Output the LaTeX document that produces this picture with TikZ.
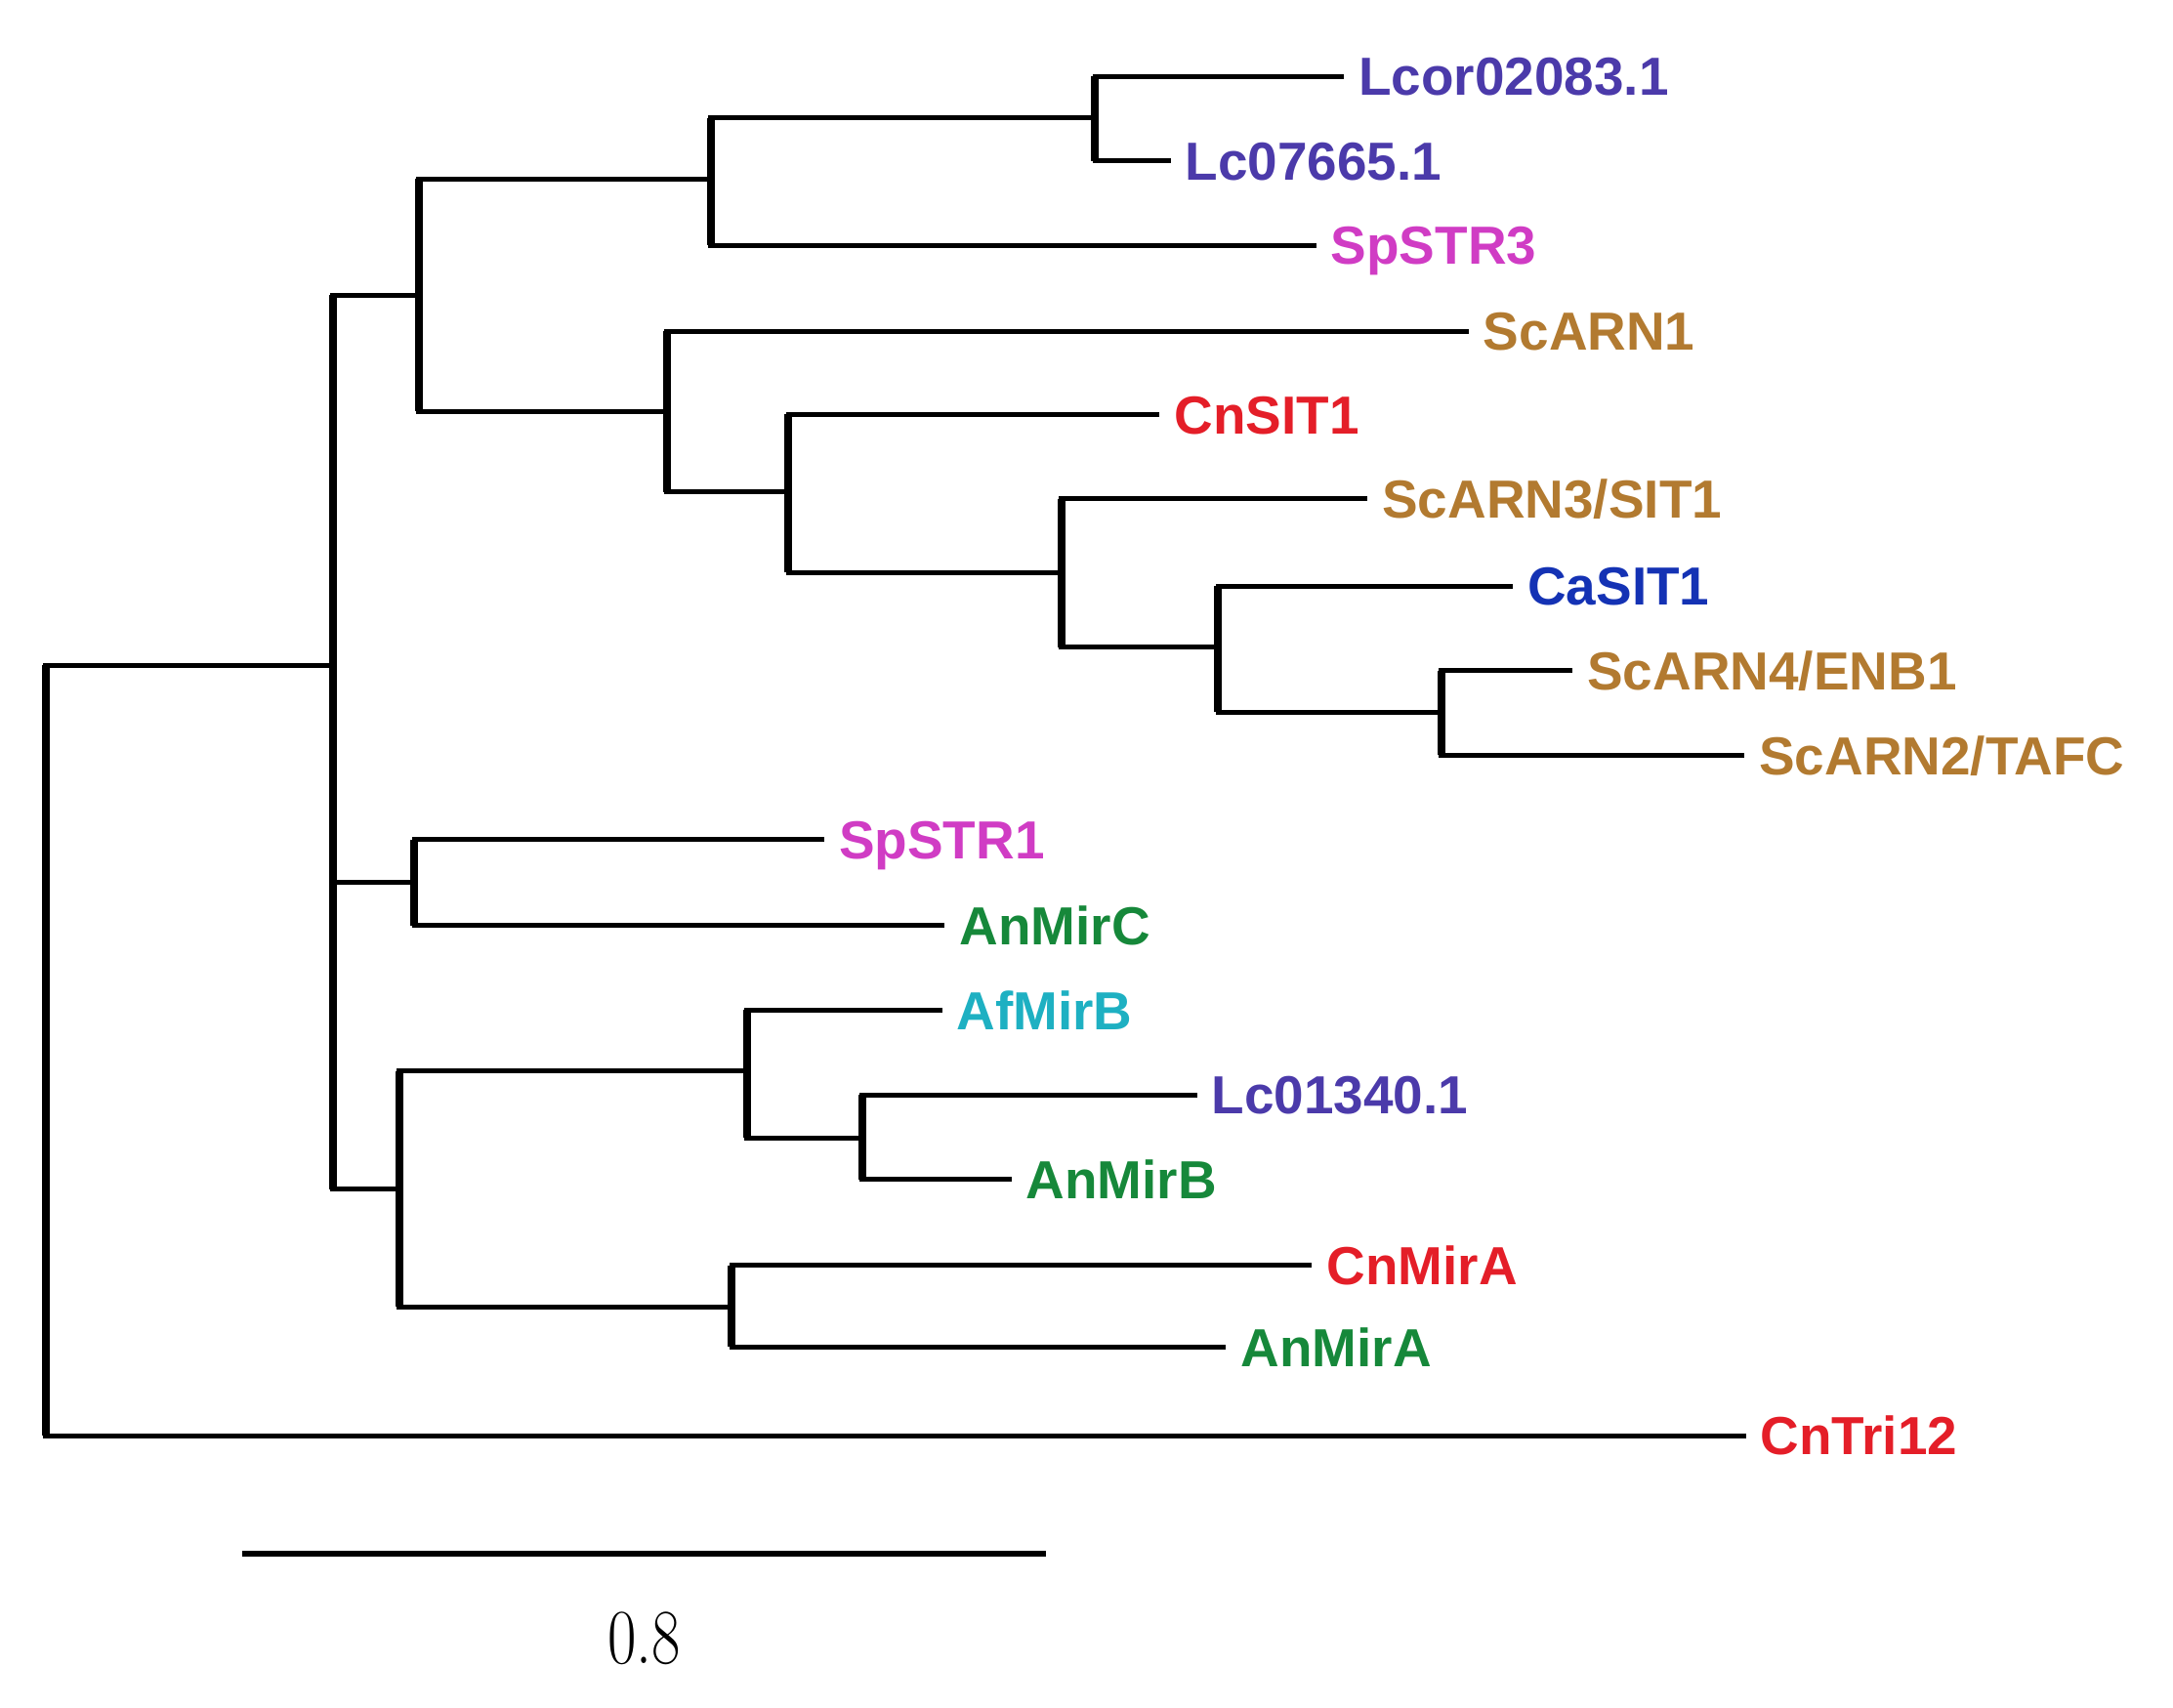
\documentclass[tikz,border=0pt]{standalone}
\usepackage{fontspec}
\usepackage{tikz}
\usetikzlibrary{positioning}
\newfontfamily\leaffont{Liberation Sans}
\definecolor{lcpurple}{RGB}{75, 58, 170}
\definecolor{spmagenta}{RGB}{208, 60, 196}
\definecolor{scbrown}{RGB}{178, 122, 48}
\definecolor{cared}{RGB}{228, 30, 40}
\definecolor{cablue}{RGB}{20, 50, 180}
\definecolor{angreen}{RGB}{22, 136, 58}
\definecolor{afcyan}{RGB}{30, 176, 194}

\begin{document}
\begin{tikzpicture}[x=0.01cm, y=-0.01cm,
    leaf/.style={anchor=west, font=\leaffont\bfseries\fontsize{11}{12}\selectfont, text height=7.9pt, text depth=0pt},
    hline/.style={line width=1pt, line cap=rect},
    vline/.style={line width=1.6pt},
    scalebar/.style={line width=1.2pt}
]
\useasboundingbox (0,0) rectangle (1568,1232);

% internal nodes
\coordinate (root) at (33,480);
\coordinate (a) at (240,480);
\coordinate (b) at (302,213);
\coordinate (c) at (513,129);
\coordinate (g) at (790,85);
\coordinate (f) at (481,297);
\coordinate (h) at (569,355);
\coordinate (i) at (766,413);
\coordinate (j) at (879,467);
\coordinate (k) at (1040,514);
\coordinate (d) at (299,637);
\coordinate (e) at (288,858);
\coordinate (l) at (539,773);
\coordinate (n) at (622,821);
\coordinate (m) at (528,943);

% leaves
\node[leaf, text=lcpurple] (lcor) at (968,55) {Lcor02083.1};
\node[leaf, text=lcpurple] (lc07665) at (843,116) {Lc07665.1};
\node[leaf, text=spmagenta] (spstr3) at (948,177) {SpSTR3};
\node[leaf, text=scbrown] (scarn1) at (1058,239) {ScARN1};
\node[leaf, text=cared] (cnsit1) at (835,299) {CnSIT1};
\node[leaf, text=scbrown] (scarn3) at (985,360) {ScARN3/SIT1};
\node[leaf, text=cablue] (casit1) at (1090,423) {CaSIT1};
\node[leaf, text=scbrown] (scarn4) at (1133,484) {ScARN4/ENB1};
\node[leaf, text=scbrown] (scarn2) at (1257,545) {ScARN2/TAFC};
\node[leaf, text=spmagenta] (spstr1) at (593,606) {SpSTR1};
\node[leaf, text=angreen] (anmirc) at (680,668) {AnMirC};
\node[leaf, text=afcyan] (afmirb) at (678,729) {AfMirB};
\node[leaf, text=lcpurple] (lc01340) at (862,790) {Lc01340.1};
\node[leaf, text=angreen] (anmirb) at (728,851) {AnMirB};
\node[leaf, text=cared] (cnmira) at (945,913) {CnMirA};
\node[leaf, text=angreen] (anmira) at (883,972) {AnMirA};
\node[leaf, text=cared] (cntri12) at (1258,1036) {CnTri12};

% vertical bars
\draw[vline] (root |- a) -- (root |- cntri12.west);
\draw[vline] (a |- b) -- (a |- e);
\draw[vline] (b |- c) -- (b |- f);
\draw[vline] (c |- g) -- (c |- spstr3.west);
\draw[vline] (g |- lcor.west) -- (g |- lc07665.west);
\draw[vline] (f |- scarn1.west) -- (f |- h);
\draw[vline] (h |- cnsit1.west) -- (h |- i);
\draw[vline] (i |- scarn3.west) -- (i |- j);
\draw[vline] (j |- casit1.west) -- (j |- k);
\draw[vline] (k |- scarn4.west) -- (k |- scarn2.west);
\draw[vline] (d |- spstr1.west) -- (d |- anmirc.west);
\draw[vline] (e |- l) -- (e |- m);
\draw[vline] (l |- afmirb.west) -- (l |- n);
\draw[vline] (n |- lc01340.west) -- (n |- anmirb.west);
\draw[vline] (m |- cnmira.west) -- (m |- anmira.west);

% horizontal branches
\draw[hline] (root) -- (a);
\draw[hline] (root |- cntri12.west) -- (cntri12.west);
\draw[hline] (a |- b) -- (b);
\draw[hline] (a |- d) -- (d);
\draw[hline] (a |- e) -- (e);
\draw[hline] (b |- c) -- (c);
\draw[hline] (b |- f) -- (f);
\draw[hline] (c |- g) -- (g);
\draw[hline] (c |- spstr3.west) -- (spstr3.west);
\draw[hline] (g |- lcor.west) -- (lcor.west);
\draw[hline] (g |- lc07665.west) -- (lc07665.west);
\draw[hline] (f |- scarn1.west) -- (scarn1.west);
\draw[hline] (f |- h) -- (h);
\draw[hline] (h |- cnsit1.west) -- (cnsit1.west);
\draw[hline] (h |- i) -- (i);
\draw[hline] (i |- scarn3.west) -- (scarn3.west);
\draw[hline] (i |- j) -- (j);
\draw[hline] (j |- casit1.west) -- (casit1.west);
\draw[hline] (j |- k) -- (k);
\draw[hline] (k |- scarn4.west) -- (scarn4.west);
\draw[hline] (k |- scarn2.west) -- (scarn2.west);
\draw[hline] (d |- spstr1.west) -- (spstr1.west);
\draw[hline] (d |- anmirc.west) -- (anmirc.west);
\draw[hline] (e |- l) -- (l);
\draw[hline] (e |- m) -- (m);
\draw[hline] (l |- afmirb.west) -- (afmirb.west);
\draw[hline] (l |- n) -- (n);
\draw[hline] (n |- lc01340.west) -- (lc01340.west);
\draw[hline] (n |- anmirb.west) -- (anmirb.west);
\draw[hline] (m |- cnmira.west) -- (cnmira.west);
\draw[hline] (m |- anmira.west) -- (anmira.west);

% scale bar
\coordinate (sbleft) at (175,1121);
\coordinate (sbright) at (755,1121);
\draw[scalebar] (sbleft) -- (sbright);
\node[font=\fontsize{16}{18}\selectfont] (sblabel) at (465,1182) {\scalebox{0.8}[1]{0.8}};

\end{tikzpicture}
\end{document}
